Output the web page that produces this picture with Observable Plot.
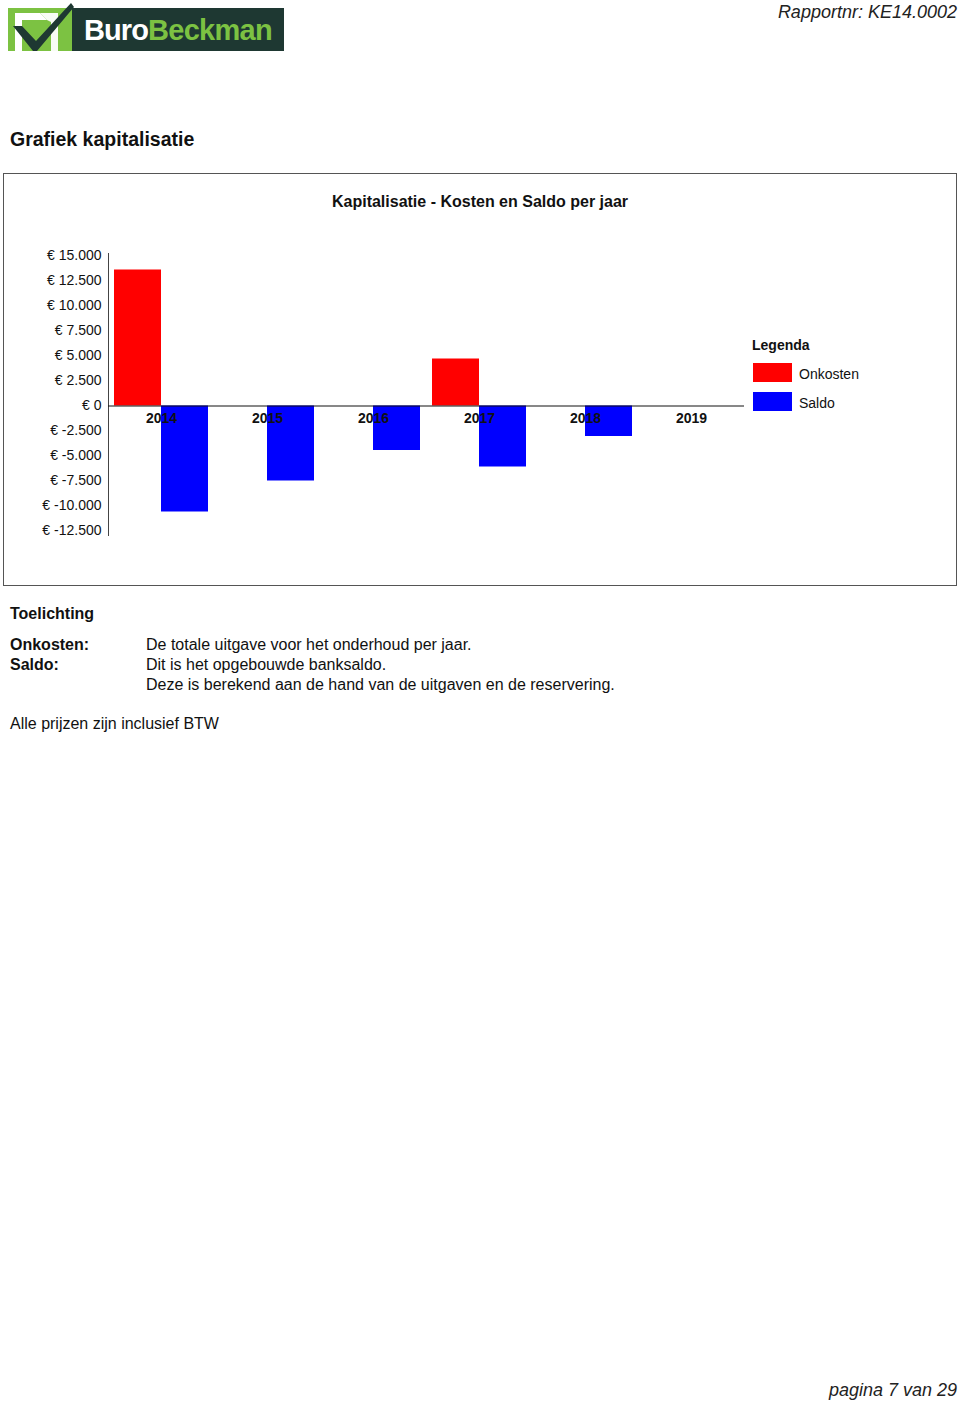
<!DOCTYPE html>
<html>
<head>
<meta charset="utf-8">
<script src="https://cdn.jsdelivr.net/npm/d3@7"></script>
<script src="https://cdn.jsdelivr.net/npm/@observablehq/plot@0.6"></script>
<style>
  html, body { margin: 0; padding: 0; background: #fff; }
  body { width: 960px; height: 1402px; position: relative; font-family: "Liberation Sans", Arial, Helvetica, sans-serif; color: #111; overflow: hidden; }
  .abs { position: absolute; line-height: 1; white-space: nowrap; }
  #box { position: absolute; left: 3px; top: 173px; width: 952px; height: 411px; border: 1px solid #555; }
  #plot { position: absolute; left: 4px; top: 241px; }
  .sw { position: absolute; width: 39px; height: 19px; }
</style>
</head>
<body>
<svg class="abs" style="left:0;top:0" width="290" height="56" viewBox="0 0 290 56">
  <rect x="8" y="8" width="64" height="43" fill="#7cc242"/>
  <polygon points="15,13 40,13 47,20 22,20 22,51 15,51" fill="#fff"/>
  <polygon points="40,13 58,13 58,51 51,51 51,22 47,20" fill="#fff" opacity="0.95"/>
  <polygon points="72,8 284,8 284,51 72,51" fill="#1e3832"/>
  <polygon points="13,26 22,26 36,41 71,3 74,7 37,51 33,51" fill="#1e3832"/>
  <text x="84" y="40" font-family="Liberation Sans, Arial" font-weight="bold" font-size="29" letter-spacing="-0.9" fill="#fff">Buro</text>
  <text x="148" y="40" font-family="Liberation Sans, Arial" font-weight="bold" font-size="29" letter-spacing="-0.7" fill="#7cc242">Beckman</text>
</svg>
<div class="abs" style="right:3px;top:3px;font-size:18px;font-style:italic;color:#222">Rapportnr: KE14.0002</div>
<div class="abs" style="left:10px;top:130px;font-size:19.5px;font-weight:bold">Grafiek kapitalisatie</div>
<div id="box"></div>
<div class="abs" style="left:0;width:960px;text-align:center;top:194px;font-size:16px;font-weight:bold">Kapitalisatie - Kosten en Saldo per jaar</div>
<div id="plot"></div>
<div id="legend"></div>
<div class="abs" style="left:10px;top:606px;font-size:16px;font-weight:bold">Toelichting</div>
<div class="abs" style="left:10px;top:635px;font-size:16px;font-weight:bold;line-height:20px">Onkosten:<br>Saldo:</div>
<div class="abs" style="left:146px;top:635px;font-size:16px;line-height:20px">De totale uitgave voor het onderhoud per jaar.<br>Dit is het opgebouwde banksaldo.<br>Deze is berekend aan de hand van de uitgaven en de reservering.</div>
<div class="abs" style="left:10px;top:716px;font-size:16px">Alle prijzen zijn inclusief BTW</div>
<div class="abs" style="right:3px;top:1381px;font-size:18px;font-style:italic;color:#222">pagina 7 van 29</div>
<script>
const years = ["2014", "2015", "2016", "2017", "2018", "2019"];
const seriesNames = ["Onkosten", "Saldo"];
const seriesColors = ["#ff0000", "#0000ff"];
const onkosten = [13600, 0, 0, 4700, 0, 0];
const saldo = [-10600, -7500, -4450, -6100, -3050, 0];
const yTicks = [15000, 12500, 10000, 7500, 5000, 2500, 0, -2500, -5000, -7500, -10000, -12500];

const rows = years.flatMap((yr, i) => [
  {year: yr, series: seriesNames[0], value: onkosten[i]},
  {year: yr, series: seriesNames[1], value: saldo[i]}
]);

const loc = d3.formatLocale({decimal: ",", thousands: ".", grouping: [3], currency: ["€ ", ""], minus: "-"});
const fmt = loc.format(",");

const chart = Plot.plot({
  width: 740,
  height: 305,
  marginLeft: 104,
  marginRight: 0,
  marginTop: 12,
  marginBottom: 11,
  style: {fontFamily: "Liberation Sans, Arial, sans-serif", fontSize: "14px", color: "#111", background: "transparent"},
  fx: {domain: years, padding: 0, axis: null},
  x: {domain: seriesNames, paddingInner: 0, paddingOuter: 0.12, axis: null},
  y: {domain: [-12950, 15250], ticks: yTicks, tickFormat: d => "€ " + fmt(d), tickSize: 0, tickPadding: 7, label: null},
  color: {domain: seriesNames, range: seriesColors},
  marks: [
    Plot.frame({anchor: "left", facetAnchor: "left", stroke: "#444"}),
    Plot.barY(rows, {fx: "year", x: "series", y: "value", fill: "series"}),
    Plot.ruleY([0], {stroke: "#111"}),
    Plot.text(years, {fx: d => d, y: 0, text: d => d, dy: 13, fontWeight: "bold", fontSize: 14, fill: "#111"})
  ]
});
document.getElementById("plot").appendChild(chart);

const legend = document.getElementById("legend");
const lt = document.createElement("div");
lt.className = "abs";
lt.style.cssText = "left:752px;top:338px;font-size:14px;font-weight:bold";
lt.textContent = "Legenda";
legend.appendChild(lt);
seriesNames.forEach((name, i) => {
  const sw = document.createElement("div");
  sw.className = "sw";
  sw.style.left = "753px";
  sw.style.top = (363 + i * 29) + "px";
  sw.style.background = seriesColors[i];
  legend.appendChild(sw);
  const lb = document.createElement("div");
  lb.className = "abs";
  lb.style.cssText = `left:799px;top:${367 + i * 29}px;font-size:14px`;
  lb.textContent = name;
  legend.appendChild(lb);
});
</script>
</body>
</html>
